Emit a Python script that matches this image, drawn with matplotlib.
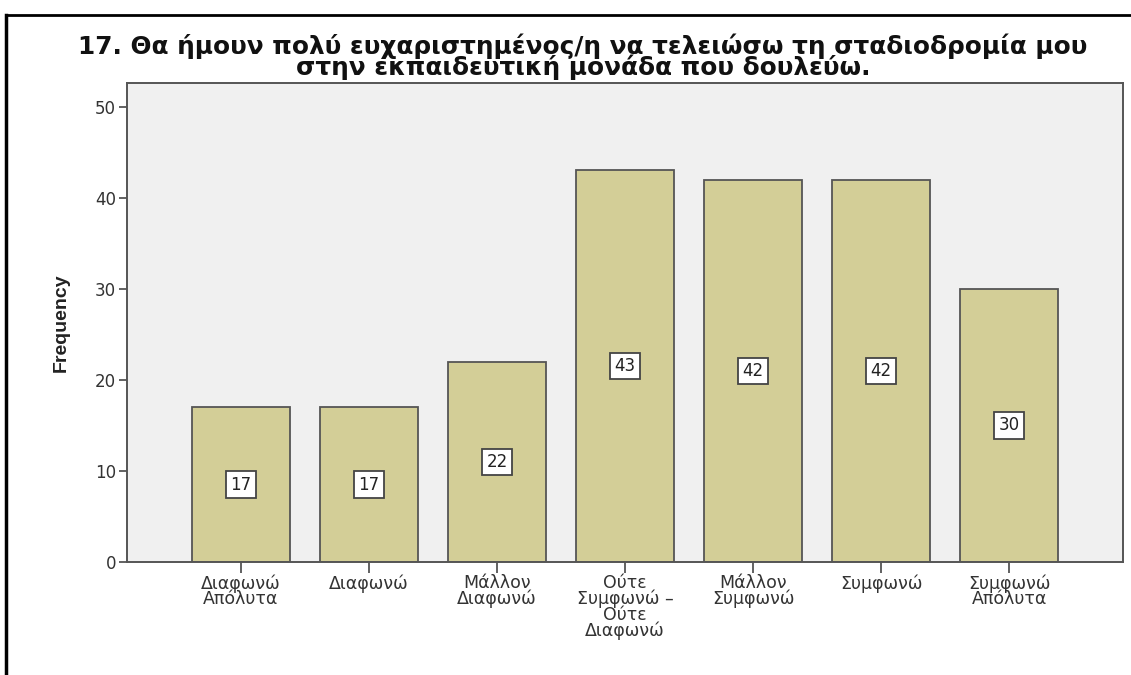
import matplotlib.pyplot as plt
from matplotlib.lines import Line2D

# answer categories and counts
categories = ['Διαφωνώ\nΑπόλυτα', 'Διαφωνώ', 'Μάλλον\nΔιαφωνώ',
              'Ούτε\nΣυμφωνώ –\nΟύτε\nΔιαφωνώ', 'Μάλλον\nΣυμφωνώ',
              'Συμφωνώ', 'Συμφωνώ\nΑπόλυτα']
counts = [17, 17, 22, 43, 42, 42, 30]
yticks = [0, 10, 20, 30, 40, 50]

title = ('17. Θα ήμουν πολύ ευχαριστημένος/η να τελειώσω τη σταδιοδρομία μου\n'
         'στην εκπαιδευτική μονάδα που δουλεύω.')

bar_color = '#d3ce97'
edge_color = '#555555'
text_color = '#333333'

fig = plt.figure(figsize=(11.31, 6.75), dpi=100)
ax = fig.add_axes([127/1131, 1 - 562/675, (1123-127)/1131, (562-83)/675])
ax.set_facecolor('#f0f0f0')

x = list(range(len(categories)))
ax.bar(x, counts, width=0.76, color=bar_color, edgecolor=edge_color, linewidth=1.3, zorder=2)

for xi, c in zip(x, counts):
    ax.text(xi, c / 2, str(c), ha='center', va='center', fontsize=12, color='#222222',
            zorder=3,
            bbox=dict(boxstyle='square,pad=0.25', facecolor='white', edgecolor='#444444', linewidth=1.3))

ax.set_xlim(-0.89, 6.89)
ax.set_ylim(0, 52.6)
ax.set_yticks(yticks)
ax.set_xticks(x)
ax.set_xticklabels(categories, fontsize=12.5, color=text_color, linespacing=0.82)
ax.tick_params(axis='y', labelsize=12, labelcolor=text_color, length=6, width=1.3, color=edge_color, pad=2)
ax.tick_params(axis='x', length=8, width=1.3, color=edge_color, pad=1)
for s in ax.spines.values():
    s.set_color(edge_color)
    s.set_linewidth(1.4)

ax.set_ylabel('Frequency', family=['Liberation Sans', 'DejaVu Sans'],
              fontsize=14, fontweight='bold', color='#222222', labelpad=18)

fig.text(583/1131, 1 - 57/675, title, ha='center', va='center', fontsize=17.8,
         fontweight='bold', color='#111111', linespacing=0.8)

# outer frame: left and top edges only
fig.add_artist(Line2D([6/1131, 6/1131], [0, 1 - 15/675], transform=fig.transFigure,
                      color='black', linewidth=2.5))
fig.add_artist(Line2D([6/1131, 1], [1 - 15/675, 1 - 15/675], transform=fig.transFigure,
                      color='black', linewidth=2))

fig.savefig('out.png', dpi=100)
